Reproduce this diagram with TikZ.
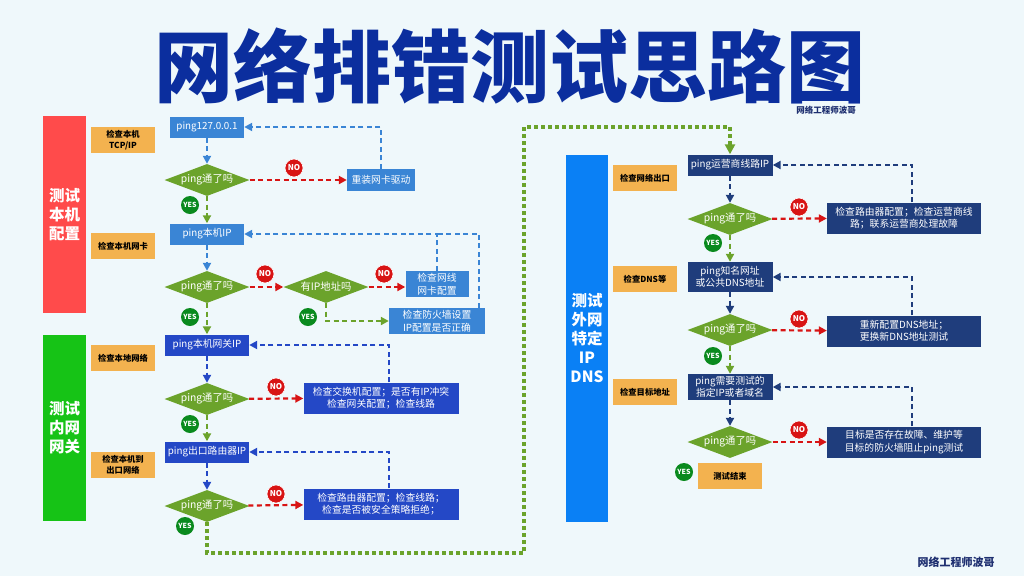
\documentclass[tikz,border=0pt]{standalone}
\usepackage{fontspec}
\setmainfont{Noto Sans CJK SC}
\newfontfamily\titlefont{Noto Sans CJK SC Black}
\usetikzlibrary{shapes.geometric,arrows.meta}

\definecolor{bgcol}{HTML}{EFF8FB}
\definecolor{titlecol}{HTML}{0B2E9E}
\definecolor{markcol}{HTML}{1E2F70}
\definecolor{redbar}{HTML}{FF4B4B}
\definecolor{greenbar}{HTML}{16C316}
\definecolor{bluebar}{HTML}{0A80F5}
\definecolor{tagcol}{HTML}{F3B24F}
\definecolor{lancol}{HTML}{3A85D5}
\definecolor{gwcol}{HTML}{2448C6}
\definecolor{wancol}{HTML}{1F3D7C}
\definecolor{askcol}{HTML}{6BA32B}
\definecolor{yescol}{HTML}{0A8A1E}
\definecolor{nocol}{HTML}{D81414}

\tikzstyle{sidebar} = [minimum width=43pt, text=white, align=center,
    font=\bfseries\fontsize{15.5}{19}\selectfont]
\tikzstyle{tagbox} = [fill=tagcol, minimum width=64pt, minimum height=26pt,
    inner sep=1pt, align=center, font=\bfseries\fontsize{8.3}{10.5}\selectfont]
\tikzstyle{pingbox} = [text=white, minimum height=21pt, inner sep=1pt,
    align=center, font=\fontsize{9.8}{12.5}\selectfont]
\tikzstyle{lanbox} = [pingbox, fill=lancol, minimum width=74pt]
\tikzstyle{gwbox} = [pingbox, fill=gwcol, minimum width=84pt]
\tikzstyle{wanbox} = [pingbox, fill=wancol, minimum width=85pt]
\tikzstyle{ask} = [diamond, aspect=2.6, fill=askcol, text=white, inner sep=0pt,
    minimum width=85pt, minimum height=32pt, font=\fontsize{10.3}{12}\selectfont]
\tikzstyle{yesmark} = [circle, fill=yescol, text=white, minimum size=18pt,
    inner sep=0pt, font=\bfseries\fontsize{7}{7}\selectfont]
\tikzstyle{nomark} = [circle, fill=nocol, draw=white, line width=0.6pt, text=white,
    minimum size=18pt, inner sep=0pt, font=\bfseries\fontsize{8}{8}\selectfont]
\tikzstyle{flow} = [line width=2.2pt, dash pattern=on 5pt off 3.5pt,
    -{Triangle[length=8pt,width=8pt]}]
\tikzstyle{joint} = [line width=2.2pt, dash pattern=on 5pt off 3.5pt]

\begin{document}
\begin{tikzpicture}[x=1pt, y=-1pt]
    \path [fill=bgcol, use as bounding box] (0,0) rectangle (1024,576);

    \node [text=titlecol, font=\titlefont\fontsize{79}{80}\selectfont] (title) at (510,66) {网络排错测试思路图};
    \node [text=markcol, font=\bfseries\fontsize{8.5}{10}\selectfont] (mark1) at (826,110) {网络工程师波哥};
    \node [text=markcol, font=\bfseries\fontsize{11}{13}\selectfont] (mark2) at (956,562) {网络工程师波哥};

    \node [sidebar, fill=redbar, minimum height=197pt] (bar1) at (64.5,214.5) {测试\\本机\\配置};
    \node [sidebar, fill=greenbar, minimum height=186pt] (bar2) at (64.5,428) {测试\\内网\\网关};
    \node [sidebar, fill=bluebar, minimum width=42pt, minimum height=367pt] (bar3) at (587,338.5) {测试\\外网\\特定\\IP\\DNS};

    \node [tagbox] (tag1) at (123,140) {检查本机\\TCP/IP};
    \node [tagbox] (tag2) at (123,246) {检查本机网卡};
    \node [tagbox] (tag3) at (123,358) {检查本地网络};
    \node [tagbox] (tag4) at (123,465) {检查本机到\\出口网络};
    \node [tagbox] (tag5) at (645,178) {检查网络出口};
    \node [tagbox] (tag6) at (645,279) {检查DNS等};
    \node [tagbox] (tag7) at (645,392) {检查目标地址};
    \node [tagbox] (done) at (730,476) {测试结束};

    \node [lanbox] (p1) at (207,127) {ping127.0.0.1};
    \node [ask] (d1) at (207,180) {ping通了吗};
    \node [lanbox] (p2) at (207,234) {ping本机IP};
    \node [ask] (d2) at (207,287) {ping通了吗};
    \node [ask] (d2b) at (326,287) {有IP地址吗};
    \node [lanbox, minimum width=68pt, minimum height=22pt] (fix1) at (381,180) {重装网卡驱动};
    \node [lanbox, minimum width=63pt, minimum height=26pt] (fix2) at (437,284) {检查网线\\网卡配置};
    \node [lanbox, minimum width=96pt, minimum height=26pt] (fix3) at (437,321) {检查防火墙设置\\IP配置是否正确};

    \node [gwbox] (p3) at (207,345) {ping本机网关IP};
    \node [ask] (d3) at (207,399) {ping通了吗};
    \node [gwbox] (p4) at (207,452) {ping出口路由器IP};
    \node [ask] (d4) at (207,506) {ping通了吗};
    \node [gwbox, minimum width=155pt, minimum height=31pt] (fix4) at (381,398) {检查交换机配置；是否有IP冲突\\检查网关配置；检查线路};
    \node [gwbox, minimum width=155pt, minimum height=31pt] (fix5) at (381,504) {检查路由器配置；检查线路；\\检查是否被安全策略拒绝；};

    \node [wanbox] (q1) at (730,165) {ping运营商线路IP};
    \node [ask] (e1) at (730,219) {ping通了吗};
    \node [wanbox, minimum height=30pt] (q2) at (730,277) {ping知名网址\\或公共DNS地址};
    \node [ask] (e2) at (730,330) {ping通了吗};
    \node [wanbox, minimum height=26pt] (q3) at (730,387) {ping需要测试的\\指定IP或者域名};
    \node [ask] (e3) at (730,442) {ping通了吗};
    \node [wanbox, minimum width=154pt, minimum height=31pt] (fix6) at (904,218) {检查路由器配置；检查运营商线\\路；联系运营商处理故障};
    \node [wanbox, minimum width=154pt, minimum height=31pt] (fix7) at (904,331) {重新配置DNS地址；\\更换新DNS地址测试};
    \node [wanbox, minimum width=154pt, minimum height=31pt] (fix8) at (904,442) {目标是否存在故障、维护等\\目标的防火墙阻止ping测试};

    \coordinate (bend1) at (524,553);
    \coordinate (bend2) at (524,127);

    \draw [flow, lancol] (p1) -- (d1);
    \draw [flow, askcol] (d1) -- (p2);
    \draw [flow, nocol] (d1) -- (fix1);
    \draw [flow, lancol] (fix1.north) |- (p1.east);
    \draw [flow, lancol] (p2) -- (d2);
    \draw [flow, nocol] (d2) -- (d2b);
    \draw [flow, nocol] (d2b.east) -- (fix2.west |- d2b.east);
    \draw [flow, askcol] (d2b.south) |- (fix3.west);
    \draw [flow, lancol] (fix2.north) |- (p2.east);
    \draw [joint, lancol] ([xshift=-6pt]fix3.north east) |- (fix2.north |- p2.east);
    \draw [flow, askcol] (d2) -- (p3);

    \draw [flow, gwcol] (p3) -- (d3);
    \draw [flow, askcol] (d3) -- (p4);
    \draw [flow, nocol] (d3) -- (fix4);
    \draw [flow, gwcol] ([xshift=8pt]fix4.north) |- (p3.east);
    \draw [flow, gwcol] (p4) -- (d4);
    \draw [flow, nocol] (d4) -- (fix5);
    \draw [flow, gwcol] ([xshift=8pt]fix5.north) |- (p4.east);
    \draw [askcol, line width=3.2pt, dash pattern=on 3.5pt off 3.5pt, -{Triangle[length=10pt,width=10pt]}]
        (d4.south) |- (bend1) -- (bend2) -| (q1.north);

    \draw [flow, wancol] (q1) -- (e1);
    \draw [flow, askcol] (e1) -- (q2);
    \draw [flow, nocol] (e1) -- (fix6);
    \draw [flow, wancol] ([xshift=8pt]fix6.north) |- (q1.east);
    \draw [flow, wancol] (q2) -- (e2);
    \draw [flow, askcol] (e2) -- (q3);
    \draw [flow, nocol] (e2) -- (fix7);
    \draw [flow, wancol] ([xshift=8pt]fix7.north) |- (q2.east);
    \draw [flow, wancol] (q3) -- (e3);
    \draw [flow, nocol] (e3) -- (fix8);
    \draw [flow, wancol] ([xshift=8pt]fix8.north) |- (q3.east);

    \node [yesmark] (yes1) at (190,205) {YES};
    \node [yesmark] (yes2) at (190,317) {YES};
    \node [yesmark] (yes3) at (308,317) {YES};
    \node [yesmark] (yes4) at (190,424) {YES};
    \node [yesmark] (yes5) at (185,526) {YES};
    \node [yesmark] (yes6) at (713,243) {YES};
    \node [yesmark] (yes7) at (713,356) {YES};
    \node [yesmark] (yes8) at (684,472) {YES};
    \node [nomark] (no1) at (294,168) {NO};
    \node [nomark] (no2) at (265,274) {NO};
    \node [nomark] (no3) at (384,274) {NO};
    \node [nomark] (no4) at (276,387) {NO};
    \node [nomark] (no5) at (276,494) {NO};
    \node [nomark] (no6) at (799,207) {NO};
    \node [nomark] (no7) at (799,319) {NO};
    \node [nomark] (no8) at (799,430) {NO};
\end{tikzpicture}
\end{document}
